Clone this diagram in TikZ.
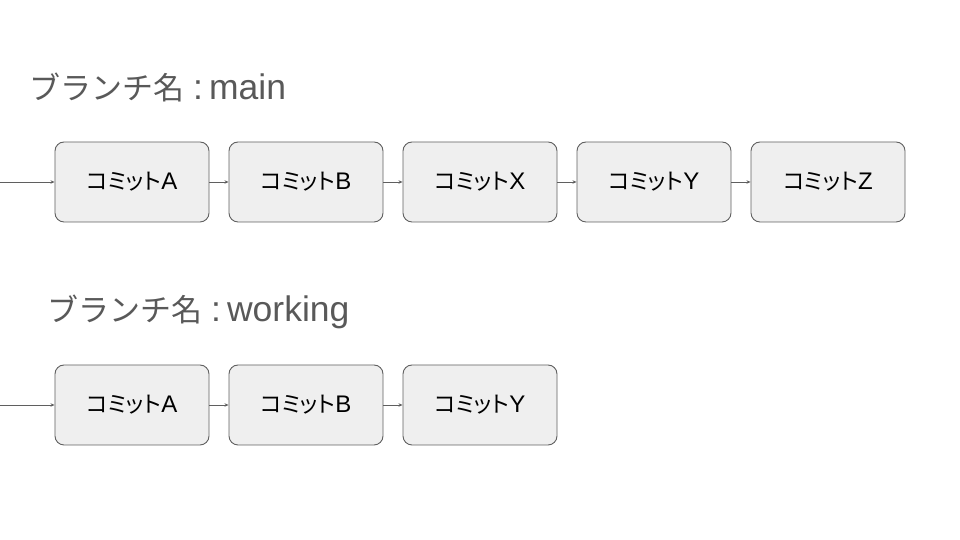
\documentclass[tikz,border=0pt]{standalone}
\usepackage{fontspec}
\newfontfamily\cjk{Noto Sans CJK JP}
\newfontfamily\cjkp[RawFeature=+palt]{Noto Sans CJK JP}
\newfontfamily\lat{Liberation Sans}
\usetikzlibrary{arrows.meta}
\definecolor{boxfill}{HTML}{EFEFEF}
\definecolor{boxline}{HTML}{5F5F5F}
\definecolor{titlecol}{HTML}{595959}
\newcommand{\ctext}[1]{{\fontsize{22.5bp}{26bp}\selectfont\cjkp コミット}{\fontsize{24bp}{28bp}\selectfont\lat #1}}
\newcommand{\btitle}[1]{{\fontsize{31bp}{36bp}\selectfont\cjk ブランチ名}{\fontsize{35.5bp}{40bp}\selectfont\lat\hspace{9bp}:\hspace{6bp}#1}}
\tikzset{
  commit/.style={draw=boxline, fill=boxfill, rounded corners=9bp, line width=0.9bp,
    minimum width=154bp, minimum height=80bp, inner sep=0pt, text=black},
  link/.style={draw=boxline, line width=0.7bp, -{Stealth[length=4bp,width=3.5bp]}},
  title/.style={anchor=west, inner sep=0pt, text=titlecol}
}
\begin{document}
\begin{tikzpicture}[x=1bp,y=1bp]
\useasboundingbox (0,0) rectangle (960,540);
\node[title] (t1) at (29,453) {\btitle{main}};
\node[commit] (a1) at (132,358) {\ctext{A}};
\node[commit] (b1) at (306,358) {\ctext{B}};
\node[commit] (x1) at (480,358) {\ctext{X}};
\node[commit] (y1) at (654,358) {\ctext{Y}};
\node[commit] (z1) at (828,358) {\ctext{Z}};
\coordinate (s1) at (0,358);
\draw[link] (s1) -- (a1);
\draw[link] (a1) -- (b1);
\draw[link] (b1) -- (x1);
\draw[link] (x1) -- (y1);
\draw[link] (y1) -- (z1);
\node[title] (t2) at (47,228) {\btitle{working}};
\node[commit] (a2) at (132,135) {\ctext{A}};
\node[commit] (b2) at (306,135) {\ctext{B}};
\node[commit] (y2) at (480,135) {\ctext{Y}};
\coordinate (s2) at (0,135);
\draw[link] (s2) -- (a2);
\draw[link] (a2) -- (b2);
\draw[link] (b2) -- (y2);
\end{tikzpicture}
\end{document}
